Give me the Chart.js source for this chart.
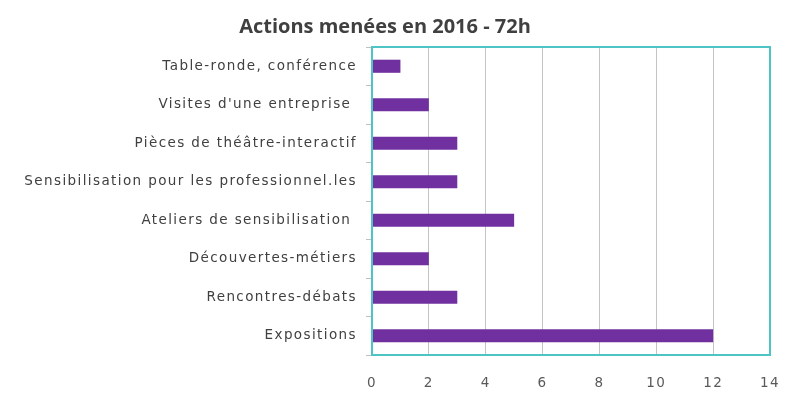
<!DOCTYPE html>
<html>
<head>
<meta charset="utf-8">
<script src="https://cdn.jsdelivr.net/npm/chart.js@4/dist/chart.umd.min.js"></script>
<style>
  html, body { margin: 0; padding: 0; background: #fff; }
  #wrap { width: 789px; height: 398px; }
</style>
</head>
<body>
<div id="wrap"><canvas id="actionsGraph"></canvas></div>
<script>
// données du graphique
var categories = [
  "Table-ronde, conférence",
  "Visites d'une entreprise ",
  "Pièces de théâtre-interactif",
  "Sensibilisation pour les professionnel.les",
  "Ateliers de sensibilisation ",
  "Découvertes-métiers",
  "Rencontres-débats",
  "Expositions"
];
var heures = [1, 2, 3, 3, 5, 2, 3, 12];
var xTicks = [0, 2, 4, 6, 8, 10, 12, 14];

var teal = '#4FC4C4';

// cadre turquoise autour de la zone de tracé + espacement des lettres (rendu Excel)
var cadre = {
  id: 'cadre',
  beforeDraw: function(chart) {
    var ctx = chart.ctx;
    if (ctx._espace) return;
    var orig = ctx.fillText;
    ctx.fillText = function(t, x, y, m) {
      this.letterSpacing = /bold/.test(this.font) ? '0px' : '1.4px';
      return m === undefined ? orig.call(this, t, x, y) : orig.call(this, t, x, y, m);
    };
    ctx._espace = true;
  },
  afterDatasetsDraw: function(chart) {
    var a = chart.chartArea, ctx = chart.ctx;
    ctx.save();
    ctx.strokeStyle = teal;
    ctx.lineWidth = 2;
    ctx.strokeRect(a.left, a.top, a.right - a.left, a.bottom - a.top);
    ctx.restore();
  }
};

new Chart(document.getElementById("actionsGraph"), {
  type: 'bar',
  data: {
    labels: categories,
    datasets: [{
      label: "Heures",
      backgroundColor: '#7030A0',
      data: heures,
      barPercentage: 0.34,
      categoryPercentage: 1
    }]
  },
  options: {
    indexAxis: 'y',
    responsive: true,
    maintainAspectRatio: false,
    animation: false,
    layout: { padding: { top: 8, right: 19, bottom: 0, left: 0 } },
    plugins: {
      legend: { display: false },
      tooltip: { enabled: false },
      title: {
        display: true,
        text: 'Actions menées en 2016 - 72h',
        color: '#404040',
        font: { family: 'Open Sans', size: 20, weight: 'bold' },
        padding: { top: 7, bottom: 8 }
      }
    },
    scales: {
      x: {
        min: 0,
        max: 14,
        afterBuildTicks: function(scale) {
          scale.ticks = xTicks.map(function(v) { return { value: v }; });
        },
        afterFit: function(scale) {
          scale.height = 43;
          scale.paddingLeft = 0;
          scale.paddingRight = 0;
        },
        grid: { color: '#C4C4C4', lineWidth: 1, drawTicks: false },
        border: { display: false },
        ticks: {
          color: '#595959',
          padding: 20,
          font: { family: 'DejaVu Sans', size: 13.5 }
        }
      },
      y: {
        afterFit: function(scale) { scale.width = 372; },
        grid: {
          offset: true,
          drawOnChartArea: false,
          color: '#BFBFBF',
          tickLength: 6
        },
        border: { display: false },
        ticks: {
          color: '#404040',
          padding: 9,
          font: { family: 'DejaVu Sans', size: 13.5 }
        }
      }
    }
  },
  plugins: [cadre]
});
</script>
</body>
</html>
